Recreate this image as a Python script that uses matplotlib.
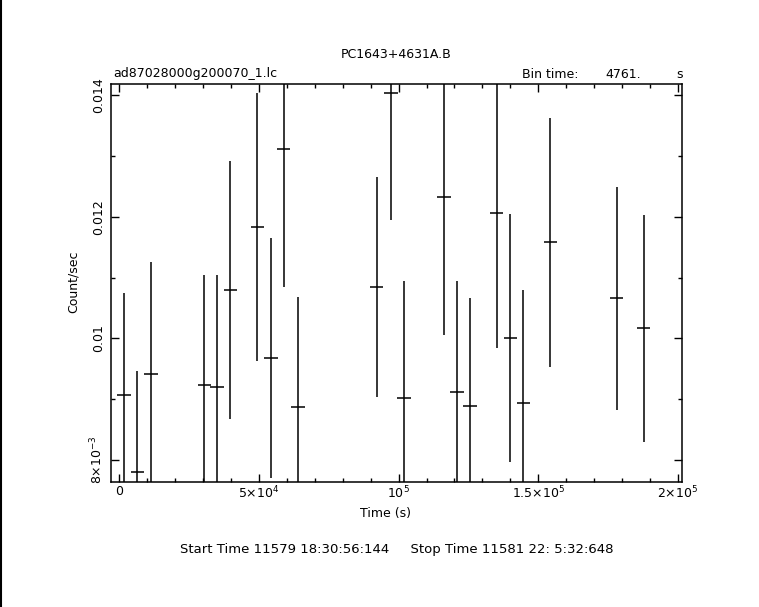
import matplotlib
matplotlib.use('Agg')
import matplotlib.pyplot as plt
from matplotlib.ticker import MultipleLocator, FixedLocator, FixedFormatter
from matplotlib.lines import Line2D

# light curve values
time = [1735, 6402, 11309, 30456, 35003, 39790, 49484, 54270, 58817, 63963,
        92203, 97228, 101895, 116255, 120922, 125589, 135164, 139949, 144616,
        154309, 178125, 187697]
rate = [0.009068, 0.007797, 0.009408, 0.009233, 0.009200, 0.010789, 0.011830,
        0.009677, 0.013107, 0.008866, 0.010838, 0.014027, 0.009014, 0.012318,
        0.009112, 0.008888, 0.012055, 0.010000, 0.008932, 0.011578, 0.010658,
        0.010164]
rate_err = [0.00168, 0.00167, 0.00185, 0.00181, 0.00184, 0.00212, 0.00220,
            0.00197, 0.00226, 0.00181, 0.00181, 0.00208, 0.00193, 0.00226,
            0.00183, 0.00177, 0.00221, 0.00204, 0.00186, 0.00205, 0.00183,
            0.00186]
bin_time = 4761.

xticks = [0, 50000, 100000, 150000, 200000]
xticklabels = ['0', r'$5{\times}10^{4}$', r'$10^{5}$', r'$1.5{\times}10^{5}$', r'$2{\times}10^{5}$']
yticks = [0.008, 0.010, 0.012, 0.014]
yticklabels = [r'$8{\times}10^{-3}$', '0.01', '0.012', '0.014']

plt.rcParams['font.family'] = 'DejaVu Sans'
plt.rcParams['mathtext.fontset'] = 'dejavusans'

fig = plt.figure(figsize=(7.59, 6.07), dpi=100)
ax = fig.add_axes([0.1462, 0.2054, 0.7527, 0.6557])

ax.errorbar(time, rate, yerr=rate_err, xerr=bin_time / 2, fmt='none',
            ecolor='black', elinewidth=1.1, capsize=0)

ax.set_xlim(-2973, 201550)
ax.set_ylim(0.007633, 0.014176)

ax.xaxis.set_major_locator(FixedLocator(xticks))
ax.xaxis.set_major_formatter(FixedFormatter(xticklabels))
ax.xaxis.set_minor_locator(MultipleLocator(10000))
ax.yaxis.set_major_locator(FixedLocator(yticks))
ax.yaxis.set_major_formatter(FixedFormatter(yticklabels))
ax.yaxis.set_minor_locator(MultipleLocator(0.001))

ax.tick_params(which='both', direction='in', top=True, right=True, width=1.0,
               labelsize=9, colors='black')
ax.tick_params(which='major', length=6)
ax.tick_params(which='minor', length=3)
ax.tick_params(axis='x', pad=2)
ax.tick_params(axis='y', pad=4)
for lab in ax.get_yticklabels():
    lab.set_rotation(90)
    lab.set_va('center')
for sp in ax.spines.values():
    sp.set_linewidth(1.1)

fig.text(386 / 759, 1 - 513 / 607, 'Time (s)', ha='center', va='center', fontsize=9)
fig.text(73 / 759, 1 - 282 / 607, 'Count/sec', ha='center', va='center',
         rotation=90, fontsize=9)
fig.text(396.5 / 759, 1 - 55 / 607, 'PC1643+4631A.B', ha='center', va='center', fontsize=9)
fig.text(113 / 759, 1 - 74 / 607, 'ad87028000g200070_1.lc', ha='left', va='center', fontsize=9)
fig.text(522 / 759, 1 - 74 / 607, 'Bin time:', ha='left', va='center', fontsize=9)
fig.text(605 / 759, 1 - 74 / 607, '4761.', ha='left', va='center', fontsize=9)
fig.text(676 / 759, 1 - 74 / 607, 's', ha='left', va='center', fontsize=9)
fig.text(397 / 759, 1 - 549 / 607,
         'Start Time 11579 18:30:56:144     Stop Time 11581 22: 5:32:648',
         ha='center', va='center', fontsize=9.5)

# thin border line along the left edge of the image
fig.add_artist(Line2D([0.001, 0.001], [0, 1], color='black', lw=1.5,
                      transform=fig.transFigure))

fig.savefig('out.png', dpi=100)
